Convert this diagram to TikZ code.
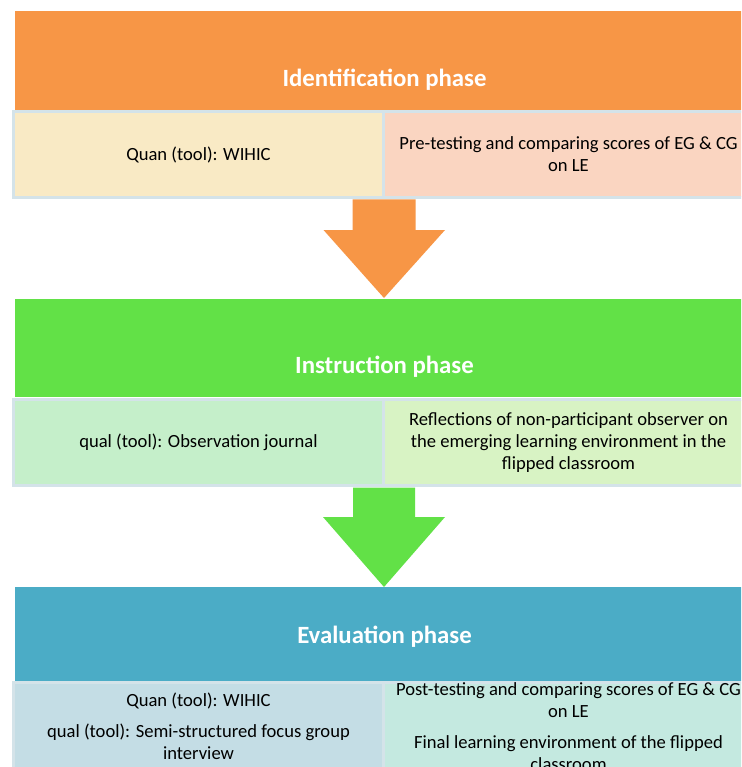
\documentclass[tikz,border=0pt]{standalone}
\usepackage{fontspec}
\setmainfont{Carlito}
\usetikzlibrary{calc}
\definecolor{orng}{HTML}{F79646}
\definecolor{grn}{HTML}{62E147}
\definecolor{blu}{HTML}{4BACC6}
\definecolor{cream}{HTML}{F9EAC5}
\definecolor{peach}{HTML}{FAD5C1}
\definecolor{mint}{HTML}{C5EFCA}
\definecolor{lime}{HTML}{D8F3C4}
\definecolor{sky}{HTML}{C4DDE5}
\definecolor{aqua}{HTML}{C4E9E0}
\definecolor{cellborder}{HTML}{D4E3E9}
\begin{document}
\begin{tikzpicture}[x=1pt,y=-1pt,
  hdr/.style={draw=none, minimum width=737pt, inner sep=0pt},
  ttl/.style={text=white, font=\fontsize{24.8}{28}\selectfont\bfseries, inner sep=0pt},
  cellbox/.style={draw=cellborder, line width=3pt, minimum width=370pt, inner sep=0pt,
     align=center, font=\fontsize{18.6}{22}\selectfont},
  ]
\useasboundingbox (0,0) rectangle (741,767);
\clip (0,0) rectangle (741,767);
\fill[white] (0,0) rectangle (741,767);

% Identification phase
\node[hdr, fill=orng, minimum height=99pt] (h1) at (383.5,60.5) {};
\node[ttl] (t1) at (384.5,80) {Identification phase};
\node[cellbox, fill=cream, minimum height=86pt] (c1l) at (198.5,154.5) {Quan (tool): WIHIC};
\node[cellbox, fill=peach, minimum height=86pt] (c1r) at (568.5,154.5) {Pre-testing and comparing scores of EG \& CG\\on LE};

% Instruction phase
\node[hdr, fill=grn, minimum height=98pt] (h2) at (383.5,348) {};
\node[ttl] (t2) at (384.5,367) {Instruction phase};
\node[cellbox, fill=mint, minimum height=86pt] (c2l) at (198.5,442.5) {qual (tool): Observation journal};
\node[cellbox, fill=lime, minimum height=86pt] (c2r) at (568.5,442.5) {Reflections of non-participant observer on\\the emerging learning environment in the\\flipped classroom};

% Evaluation phase
\node[hdr, fill=blu, minimum height=94pt] (h3) at (383.5,634) {};
\node[ttl] (t3) at (384.5,637) {Evaluation phase};
\node[cellbox, fill=sky, minimum height=88.5pt] (c3l) at (198.5,726.5) {Quan (tool): WIHIC\\[9pt]qual (tool): Semi-structured focus group\\interview};
\node[cellbox, fill=aqua, minimum height=88.5pt] (c3r) at (568.5,726.5) {Post-testing and comparing scores of EG \& CG\\on LE\\[9pt]Final learning environment of the flipped\\classroom};

% arrows
\coordinate (a1s) at (384,199.5);
\coordinate (a1t) at (384,298);
\fill[orng] ($(a1s)+(-31.5,0)$) -- ($(a1s)+(31.5,0)$) -- ($(a1s)+(31.5,30.5)$) -- ($(a1s)+(61,30.5)$)
  -- (a1t) -- ($(a1s)+(-60.5,30.5)$) -- ($(a1s)+(-31.5,30.5)$) -- cycle;
\coordinate (a2s) at (384,487.5);
\coordinate (a2t) at (384,587);
\fill[grn] ($(a2s)+(-31,0)$) -- ($(a2s)+(31,0)$) -- ($(a2s)+(31,29.5)$) -- ($(a2s)+(61,29.5)$)
  -- (a2t) -- ($(a2s)+(-61,29.5)$) -- ($(a2s)+(-31,29.5)$) -- cycle;
\end{tikzpicture}
\end{document}
